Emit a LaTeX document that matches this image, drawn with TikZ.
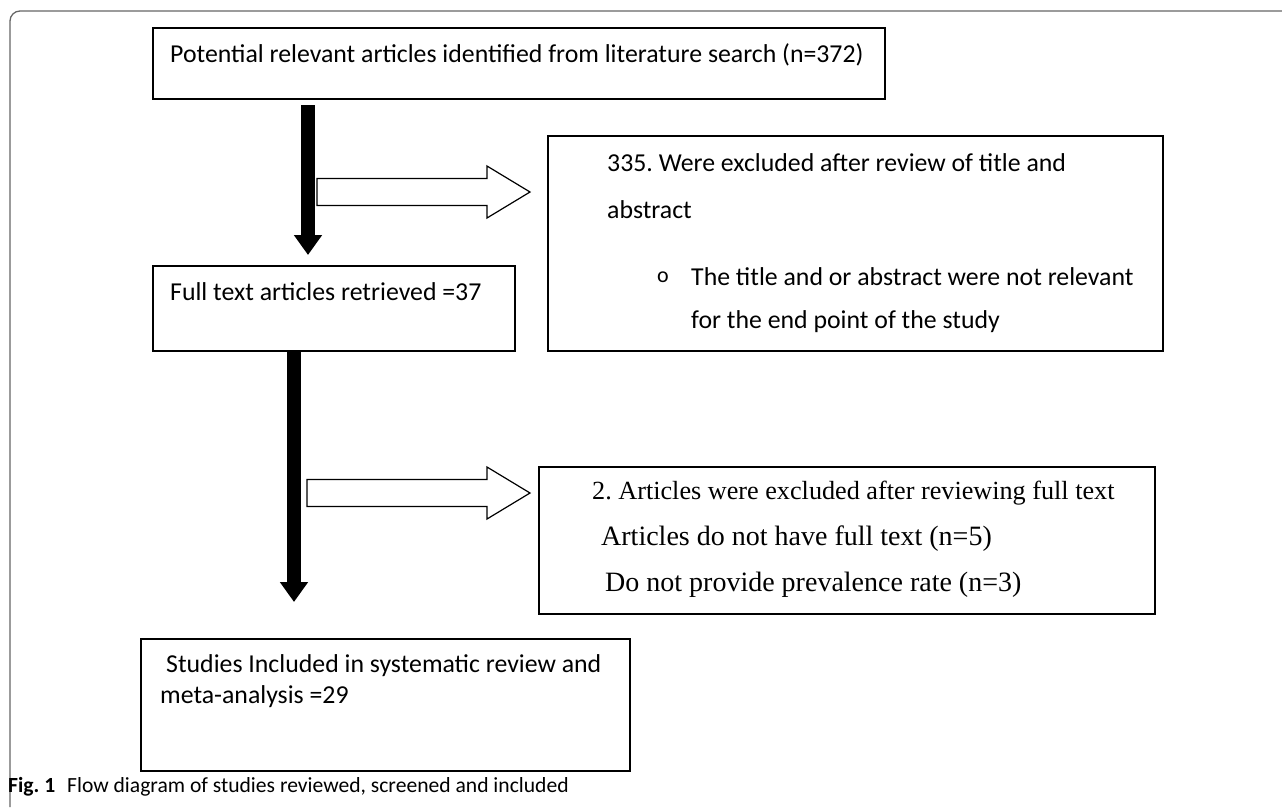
\documentclass[tikz,border=0pt]{standalone}
\usepackage{fontspec}
\setmainfont{Carlito}
\newfontfamily\timesfont{Liberation Serif}
\usetikzlibrary{arrows.meta}
\frenchspacing

\tikzset{
  box/.style={draw, line width=1.5pt, inner sep=0pt},
  txt/.style={anchor=west, inner sep=0pt, font=\fontsize{25.8}{30}\selectfont},
  ttxt/.style={anchor=west, inner sep=0pt, font=\timesfont\fontsize{28}{32}\selectfont},
  bigarrow/.style={line width=14pt, -{Triangle[width=27pt,length=20pt]}},
  hollow/.style={draw, line width=1.2pt, fill=white},
  frame/.style={draw=black!60, line width=1.3pt, rounded corners=10pt}
}

\begin{document}
\begin{tikzpicture}[x=1pt, y=-1pt]
        \useasboundingbox (0,0) rectangle (1282,807);

        % Draw the figure frame
        \draw[frame] (1282,11) -- (10,11) -- (10,807);

        % Draw the boxes
        \node[box, minimum width=732pt, minimum height=71pt] (search) at (519,63.5) {};
        \node[box, minimum width=615pt, minimum height=215pt] (excl1) at (855.5,243.5) {};
        \node[box, minimum width=362pt, minimum height=85pt] (fulltext) at (334,308.5) {};
        \node[box, minimum width=616pt, minimum height=147pt] (excl2) at (847,540.5) {};
        \node[box, minimum width=489pt, minimum height=132pt] (included) at (385.5,705) {};

        % Label the boxes
        \node[txt] (searchtxt) at (170,55) {Potential relevant articles identified from literature search (n=372)};
        \node[txt] (excl1a) at (607,163) {335. Were excluded after review of title and};
        \node[txt] (excl1b) at (607,210) {abstract};
        \node[txt, font=\fontsize{22}{26}\selectfont] (bullet) at (657,277) {o};
        \node[txt] (excl1c) at (691,277) {The title and or abstract were not relevant};
        \node[txt] (excl1d) at (691,322) {for the end point of the study};
        \node[txt] (fulltxt) at (170,292) {Full text articles retrieved =37};
        \node[ttxt, font=\timesfont\fontsize{26.2}{30}\selectfont] (excl2a) at (592,493) {2. Articles were excluded after reviewing full text};
        \node[ttxt] (excl2b) at (601,539) {Articles do not have full text (n=5)};
        \node[ttxt] (excl2c) at (605,585) {Do not provide prevalence rate (n=3)};
        \node[txt] (incla) at (166,666) {Studies Included in systematic review and};
        \node[txt] (inclb) at (160,697) {meta-analysis =29};

        % Draw the flow arrows
        \coordinate (down1) at (308,105);
        \coordinate (tip1) at (308,255);
        \draw[bigarrow] (down1) -- (tip1);
        \coordinate (down2) at (fulltext.south -| 294,0);
        \coordinate (tip2) at (294,602);
        \draw[bigarrow] (down2) -- (tip2);

        % Draw the exclusion arrows
        \coordinate (side1) at (317,192);
        \draw[hollow] (side1) ++(0,-13.5) -- ++(170,0) -- ++(0,-12.5) -- ++(43,26)
            -- ++(-43,26) -- ++(0,-12.5) -- ++(-170,0) -- cycle;
        \coordinate (side2) at (307,493);
        \draw[hollow] (side2) ++(0,-13.5) -- ++(180,0) -- ++(0,-12.5) -- ++(43,26)
            -- ++(-43,26) -- ++(0,-12.5) -- ++(-180,0) -- cycle;

        % Caption
        \node[anchor=west, inner sep=0pt, font=\fontsize{21.6}{25}\selectfont] (caption) at (8,787)
            {\textbf{Fig. 1}\hspace{0.55em}Flow diagram of studies reviewed, screened and included};
    \end{tikzpicture}
\end{document}
